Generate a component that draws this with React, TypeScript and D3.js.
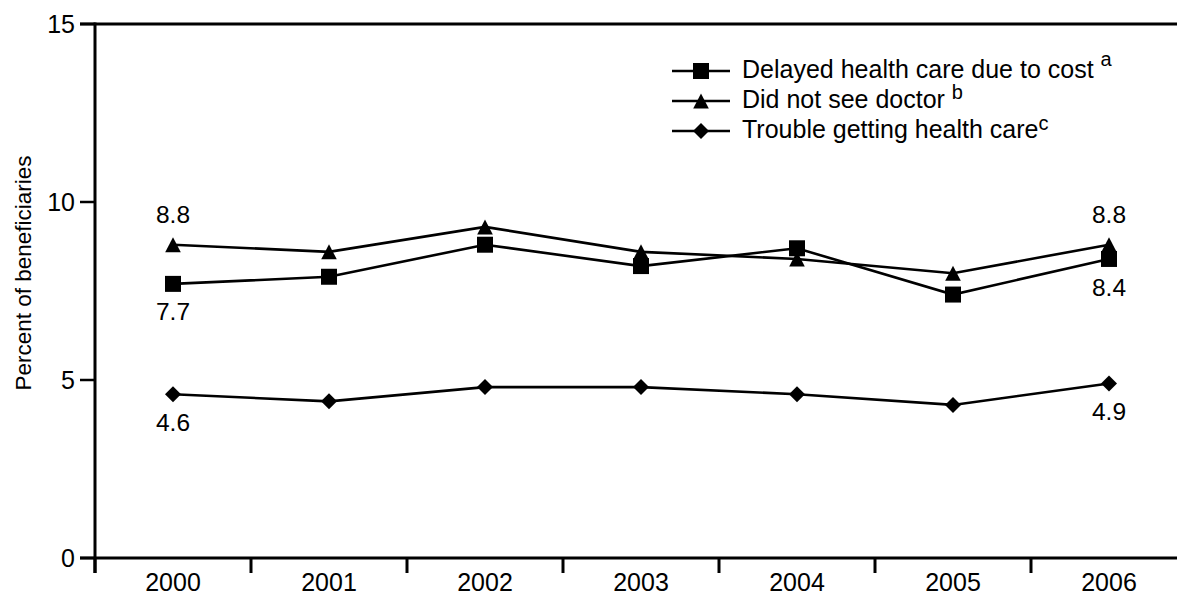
import React from "react";
import * as d3 from "d3";

const years = ["2000", "2001", "2002", "2003", "2004", "2005", "2006"];
const delayedCare = [7.7, 7.9, 8.8, 8.2, 8.7, 7.4, 8.4];
const didNotSeeDoctor = [8.8, 8.6, 9.3, 8.6, 8.4, 8.0, 8.8];
const troubleGettingCare = [4.6, 4.4, 4.8, 4.8, 4.6, 4.3, 4.9];
const yTicks = [0, 5, 10, 15];
const legendLabels = ["Delayed health care due to cost", "Did not see doctor", "Trouble getting health care"];
const legendSups = ["a", "b", "c"];

const W = 1177;
const H = 597;
const FONT = "'Liberation Sans', Arial, Helvetica, sans-serif";

type Shape = "square" | "triangle" | "diamond";

function markerPath(shape: Shape, x: number, y: number): string {
  if (shape === "square") {
    const s = 8;
    return `M${x - s},${y - s}H${x + s}V${y + s}H${x - s}Z`;
  }
  if (shape === "triangle") {
    const h = 7.5;
    return `M${x},${y - h}L${x + 7.8},${y + h}L${x - 7.8},${y + h}Z`;
  }
  const d = 8;
  return `M${x},${y - d}L${x + d},${y}L${x},${y + d}L${x - d},${y}Z`;
}

export default function App() {
  const x = d3.scaleBand<string>().domain(years).range([95, 95 + 7 * 156]).padding(0);
  const y = d3.scaleLinear().domain([0, 15]).range([558, 24]);
  const cx = (yr: string) => (x(yr) as number) + x.bandwidth() / 2;

  const line = d3
    .line<number>()
    .x((_, i) => cx(years[i]))
    .y((v) => y(v));

  const series: { values: number[]; shape: Shape }[] = [
    { values: didNotSeeDoctor, shape: "triangle" },
    { values: delayedCare, shape: "square" },
    { values: troubleGettingCare, shape: "diamond" },
  ];

  const legendShapes: Shape[] = ["square", "triangle", "diamond"];
  const legendRowsY = [71, 101, 131];
  const supOffsets = [-12, -9, -8];

  const first = years[0];
  const last = years[years.length - 1];
  const n = years.length - 1;

  const dataLabels = [
    { yr: first, v: didNotSeeDoctor[0], dy: -22 },
    { yr: first, v: delayedCare[0], dy: 36 },
    { yr: first, v: troubleGettingCare[0], dy: 37 },
    { yr: last, v: didNotSeeDoctor[n], dy: -22 },
    { yr: last, v: delayedCare[n], dy: 37 },
    { yr: last, v: troubleGettingCare[n], dy: 36 },
  ];

  return (
    <svg
      width={W}
      height={H}
      style={{ position: "absolute", left: 0, top: 0, background: "#fff" }}
      fontFamily={FONT}
    >
      <rect x={0} y={0} width={W} height={H} fill="#fff" />
      {/* top line at 15 */}
      <line x1={80} x2={W} y1={y(15)} y2={y(15)} stroke="#000" strokeWidth={3} />
      {/* y axis */}
      <line x1={95} x2={95} y1={y(15) - 1.5} y2={573} stroke="#000" strokeWidth={3} />
      {/* x axis */}
      <line x1={80} x2={W} y1={y(0)} y2={y(0)} stroke="#000" strokeWidth={3} />
      {yTicks.map((t) => (
        <g key={t}>
          <line x1={80} x2={95} y1={y(t)} y2={y(t)} stroke="#000" strokeWidth={2.5} />
          <text x={75} y={y(t)} dy="0.35em" textAnchor="end" fontSize={25} fill="#000">
            {t}
          </text>
        </g>
      ))}
      {years.map((yr) => (
        <g key={yr}>
          <line
            x1={x(yr) as number}
            x2={x(yr) as number}
            y1={y(0)}
            y2={573}
            stroke="#000"
            strokeWidth={3}
          />
          <text x={cx(yr)} y={591} textAnchor="middle" fontSize={25} fill="#000">
            {yr}
          </text>
        </g>
      ))}
      <text
        transform={`translate(31,${273}) rotate(-90)`}
        textAnchor="middle"
        fontSize={22.5}
        fill="#000"
      >
        Percent of beneficiaries
      </text>
      {series.map((s, si) => (
        <g key={si}>
          <path d={line(s.values) || ""} fill="none" stroke="#000" strokeWidth={2.6} />
          {s.values.map((v, i) => (
            <path key={i} d={markerPath(s.shape, cx(years[i]), y(v))} fill="#000" />
          ))}
        </g>
      ))}
      {dataLabels.map((d, i) => (
        <text
          key={i}
          x={cx(d.yr)}
          y={y(d.v) + d.dy}
          textAnchor="middle"
          fontSize={24.5}
          fill="#000"
        >
          {d.v.toFixed(1)}
        </text>
      ))}
      {legendLabels.map((lab, i) => (
        <g key={lab}>
          <line x1={672} x2={730} y1={legendRowsY[i]} y2={legendRowsY[i]} stroke="#000" strokeWidth={2.6} />
          <path d={markerPath(legendShapes[i], 701, legendRowsY[i])} fill="#000" />
          <text x={742} y={legendRowsY[i] + 7} fontSize={25} fill="#000">
            {lab}
            {i < 2 ? " " : ""}
            <tspan dy={supOffsets[i]} fontSize={20}>
              {legendSups[i]}
            </tspan>
          </text>
        </g>
      ))}
    </svg>
  );
}
